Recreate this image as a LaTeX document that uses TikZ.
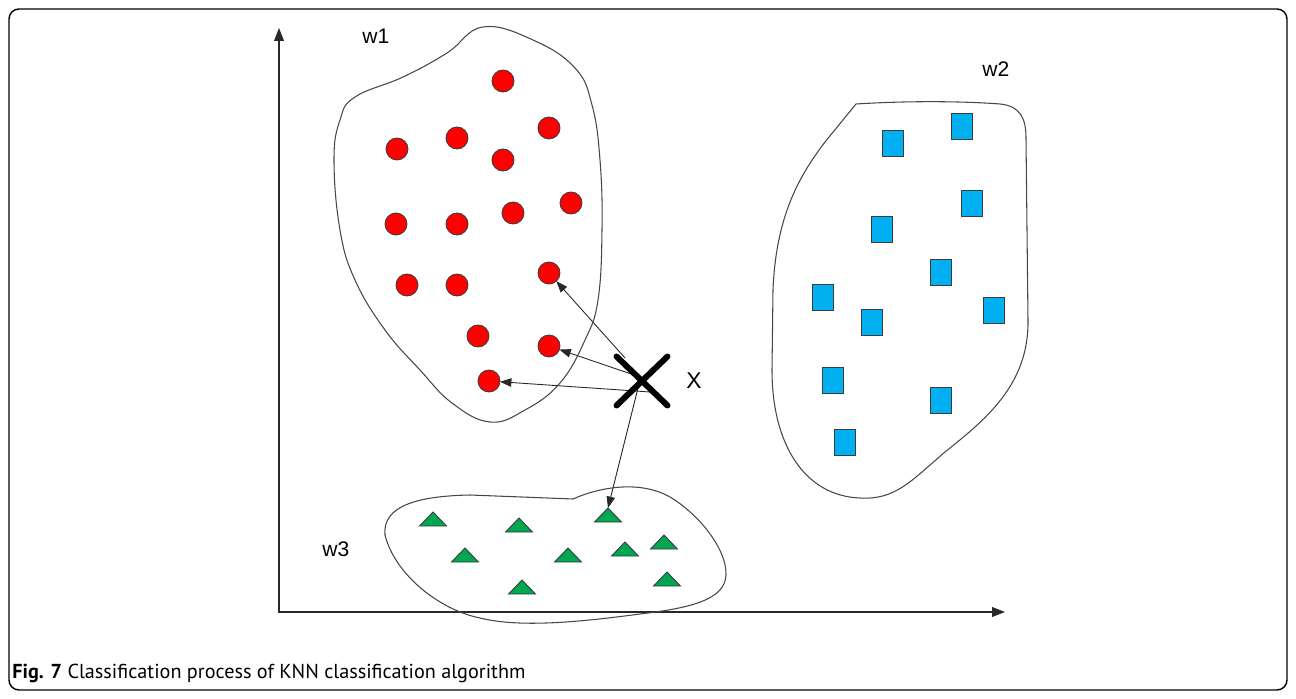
\documentclass[tikz,border=0pt]{standalone}
\usepackage{fontspec}
\setmainfont{Liberation Sans}
\newfontfamily\capfont{PT Sans}
\usetikzlibrary{arrows.meta, positioning, calc, shapes.geometric, shapes.misc}
\pgfdeclarelayer{background}
\pgfsetlayers{background,main}

\begin{document}
\begin{tikzpicture}[x=0.02cm, y=-0.02cm,
    classpt/.style={circle, draw=ptline, line width=0.5pt, inner sep=0pt, outer sep=0pt, minimum size=12.5pt, fill=classred},
    sqpt/.style={rectangle, draw=ptline, line width=0.5pt, inner sep=0pt, outer sep=0pt, minimum width=12.2pt, minimum height=14.8pt, fill=classblue},
    tript/.style={isosceles triangle, isosceles triangle stretches, shape border rotate=90, draw=ptline, line width=0.5pt, inner sep=0pt, outer sep=0pt, minimum width=15.4pt, minimum height=8pt, fill=classgreen, anchor=apex},
    region/.style={draw=regionline, line width=0.6pt},
    axis/.style={draw=axisline, line width=0.6pt, {Triangle[length=7.4pt,width=5.6pt]}-{Triangle[length=7.4pt,width=5.6pt]}},
    nearest/.style={-{Triangle[length=6.5pt,width=4.8pt]}, draw=axisline, line width=0.5pt},
    tag/.style={font=\fontsize{12}{14}\selectfont, inner sep=0pt}
    ]

    % Define colors
    \definecolor{classred}{RGB}{255,0,0}
    \definecolor{classblue}{RGB}{0,176,240}
    \definecolor{classgreen}{RGB}{0,166,80}
    \definecolor{ptline}{RGB}{60,60,60}
    \definecolor{regionline}{RGB}{70,70,70}
    \definecolor{axisline}{RGB}{40,40,40}

    \useasboundingbox (0,0) rectangle (1296,699);

    % Outer frame
    \draw[line width=0.8pt, rounded corners=5.7pt] (9,9) rectangle (1287,690);

    % 1. Axes
    \coordinate (ytop) at (279,28);
    \coordinate (xend) at (1005,612);
    \draw[axis] (ytop) |- (xend);

    % 2. Class regions
    % w1 (circles)
    \draw[region] plot[smooth cycle, tension=0.7] coordinates {
        (483,27) (533,40) (575,68) (592,105) (600,160) (602,230) (598,300)
        (585,340) (560,383) (525,410) (490,422) (452,403) (420,370) (385,330)
        (355,280) (340,230) (334,160) (340,120) (355,97) (403,77) (447,53)
    };
    % w2 (squares)
    \draw[region] (856,104) .. controls (920,100) and (975,102) .. (1000,104)
        .. controls (1020,106) and (1026,118) .. (1026,138) -- (1028,320)
        .. controls (1029,385) and (985,420) .. (945,452)
        .. controls (910,482) and (895,500) .. (860,498)
        .. controls (805,496) and (772,445) .. (772,370) -- (773,290)
        .. controls (776,215) and (800,175) .. (825,142) -- cycle;
    % w3 (triangles)
    \draw[region] (573,499) .. controls (600,487) and (640,480) .. (670,497)
        .. controls (700,515) and (727,550) .. (726,575)
        .. controls (725,600) and (690,608) .. (640,614)
        .. controls (580,622) and (520,628) .. (480,618)
        .. controls (440,610) and (395,575) .. (385,535)
        .. controls (382,505) and (420,496) .. (470,495) -- cycle;

    % 3. Samples
    \foreach \x/\y [count=\i] in {503/81, 549/128, 397/149, 457/138, 503/160,
        571/203, 513/213, 457/224, 396/224, 549/273, 407/285, 457/285,
        478/336, 549/346, 489/381}
        \node[classpt] (r\i) at (\x,\y) {};
    \foreach \x/\y [count=\i] in {893/143, 962/126, 972/203, 882/229, 941/272,
        823/297, 872/322, 994/310, 833/380, 941/400, 845/442}
        \node[sqpt] (b\i) at (\x,\y) {};
    \foreach \x/\y [count=\i] in {433/512, 519/518, 608/508, 465/548, 568/548,
        625/542, 664/535, 522/580, 667/572}
        \node[tript] (g\i) at (\x,\y) {};

    % 4. Unknown sample and its nearest neighbours
    \node[cross out, draw=black, line width=3.4pt, line cap=round, inner sep=0pt,
        minimum width=25.6pt, minimum height=24.5pt] (xmark) at (642,381) {};
    \begin{pgfonlayer}{background}
        \draw[nearest] ([shift={(-17,-23)}]xmark.center) -- (r10);
        \draw[nearest] ([shift={(-2,-4)}]xmark.center) -- (r14);
        \draw[nearest] ([shift={(8,11)}]xmark.center) -- (r15);
        \draw[nearest] ([shift={(-4,7)}]xmark.center) -- (g3.apex);
    \end{pgfonlayer}

    % 5. Labels
    \node[tag, anchor=base west] (w1lab) at (362,44) {w1};
    \node[tag, anchor=base west] (w2lab) at (982,77) {w2};
    \node[tag, anchor=base west] (w3lab) at (322,556) {w3};
    \node[tag, font=\fontsize{13}{15}\selectfont, anchor=base west] (xlab) at (686,389) {X};

    % Caption
    \node[anchor=base west, inner sep=0pt, font=\capfont\fontsize{11.5}{13}\selectfont]
        (caption) at (12,678) {\textbf{Fig. 7} Classification process of KNN classification algorithm};

\end{tikzpicture}
\end{document}
